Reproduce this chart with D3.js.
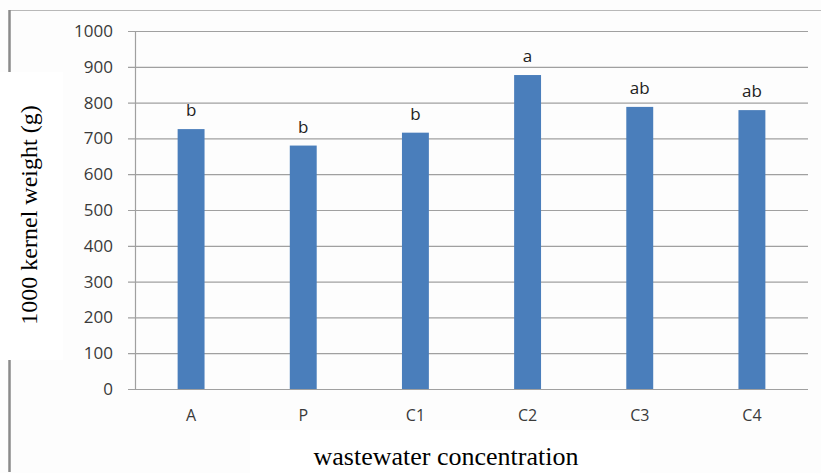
<!DOCTYPE html>
<html><head><meta charset="utf-8">
<script src="https://cdn.jsdelivr.net/npm/d3@7"></script>
<style>html,body{margin:0;padding:0;background:#fff;}svg{display:block;}</style>
</head><body>
<svg id="c" width="821" height="473"></svg>
<script>
const categories = ["A", "P", "C1", "C2", "C3", "C4"];
const values = [726, 680, 716, 877, 788, 779];
const letters = ["b", "b", "b", "a", "ab", "ab"];
const yTicks = [0, 100, 200, 300, 400, 500, 600, 700, 800, 900, 1000];
const yTitle = "1000 kernel weight (g)";
const xTitle = "wastewater concentration";

const svg = d3.select("#c");
const W = 821, H = 473;
const m = {left: 135, right: 13, top: 31, bottom: 84};

svg.append("rect").attr("width", W).attr("height", H).attr("fill", "#fdfdfd");
// outer frame
svg.append("line").attr("x1", 9).attr("x2", W).attr("y1", 10.5).attr("y2", 10.5).attr("stroke", "#b8b8b8").attr("stroke-width", 1.2);
svg.append("line").attr("x1", 9.5).attr("x2", 9.5).attr("y1", 10).attr("y2", 472).attr("stroke", "#8a8a8a").attr("stroke-width", 2.5);

const x = d3.scaleBand().domain(categories).range([m.left, W - m.right]).paddingInner(0.76).paddingOuter(0.38);
const y = d3.scaleLinear().domain([0, 1000]).range([H - m.bottom, m.top]);

const g = svg.append("g");
g.selectAll("line.grid").data(yTicks).join("line")
  .attr("x1", m.left - 7).attr("x2", W - m.right)
  .attr("y1", d => y(d) + 0.5).attr("y2", d => y(d) + 0.5)
  .attr("stroke", "#a0a0a0").attr("stroke-width", 1.2);
g.append("line").attr("x1", m.left + 0.5).attr("x2", m.left + 0.5)
  .attr("y1", y(1000)).attr("y2", y(0)).attr("stroke", "#a0a0a0").attr("stroke-width", 1.2);

const yAxis = d3.axisLeft(y).tickValues(yTicks).tickFormat(d3.format("d")).tickSize(0).tickPadding(22);
const ya = g.append("g").attr("transform", `translate(${m.left},0)`).call(yAxis);
ya.select(".domain").remove();
ya.selectAll("text").attr("font-family", "Open Sans, sans-serif").attr("font-size", 17).attr("fill", "#3a3a3a");

const xAxis = d3.axisBottom(x).tickSize(0).tickPadding(21);
const xa = g.append("g").attr("transform", `translate(0,${y(0)})`).call(xAxis);
xa.select(".domain").remove();
xa.selectAll("text").attr("font-family", "Open Sans, sans-serif").attr("font-size", 16).attr("fill", "#3a3a3a");

g.selectAll("rect.bar").data(values).join("rect")
  .attr("x", (d, i) => x(categories[i]))
  .attr("width", x.bandwidth())
  .attr("y", d => y(d))
  .attr("height", d => y(0) - y(d))
  .attr("fill", "#4a7ebb");

g.selectAll("text.lab").data(values).join("text")
  .attr("x", (d, i) => x(categories[i]) + x.bandwidth() / 2)
  .attr("y", d => y(d) - 13)
  .attr("text-anchor", "middle")
  .attr("font-family", "Open Sans, sans-serif").attr("font-size", 17).attr("fill", "#222")
  .text((d, i) => letters[i]);

svg.append("rect").attr("x", 0).attr("y", 72).attr("width", 63).attr("height", 288).attr("fill", "#fff");
svg.append("rect").attr("x", 250).attr("y", 430).attr("width", 390).attr("height", 43).attr("fill", "#fff");

svg.append("text").attr("transform", "translate(37,215) rotate(-90)")
  .attr("text-anchor", "middle").attr("font-family", "Liberation Serif, serif").attr("font-size", 24).attr("fill", "#000")
  .text(yTitle);
svg.append("text").attr("x", 446).attr("y", 465)
  .attr("text-anchor", "middle").attr("font-family", "Liberation Serif, serif").attr("font-size", 26).attr("fill", "#000")
  .text(xTitle);
</script>
</body></html>
